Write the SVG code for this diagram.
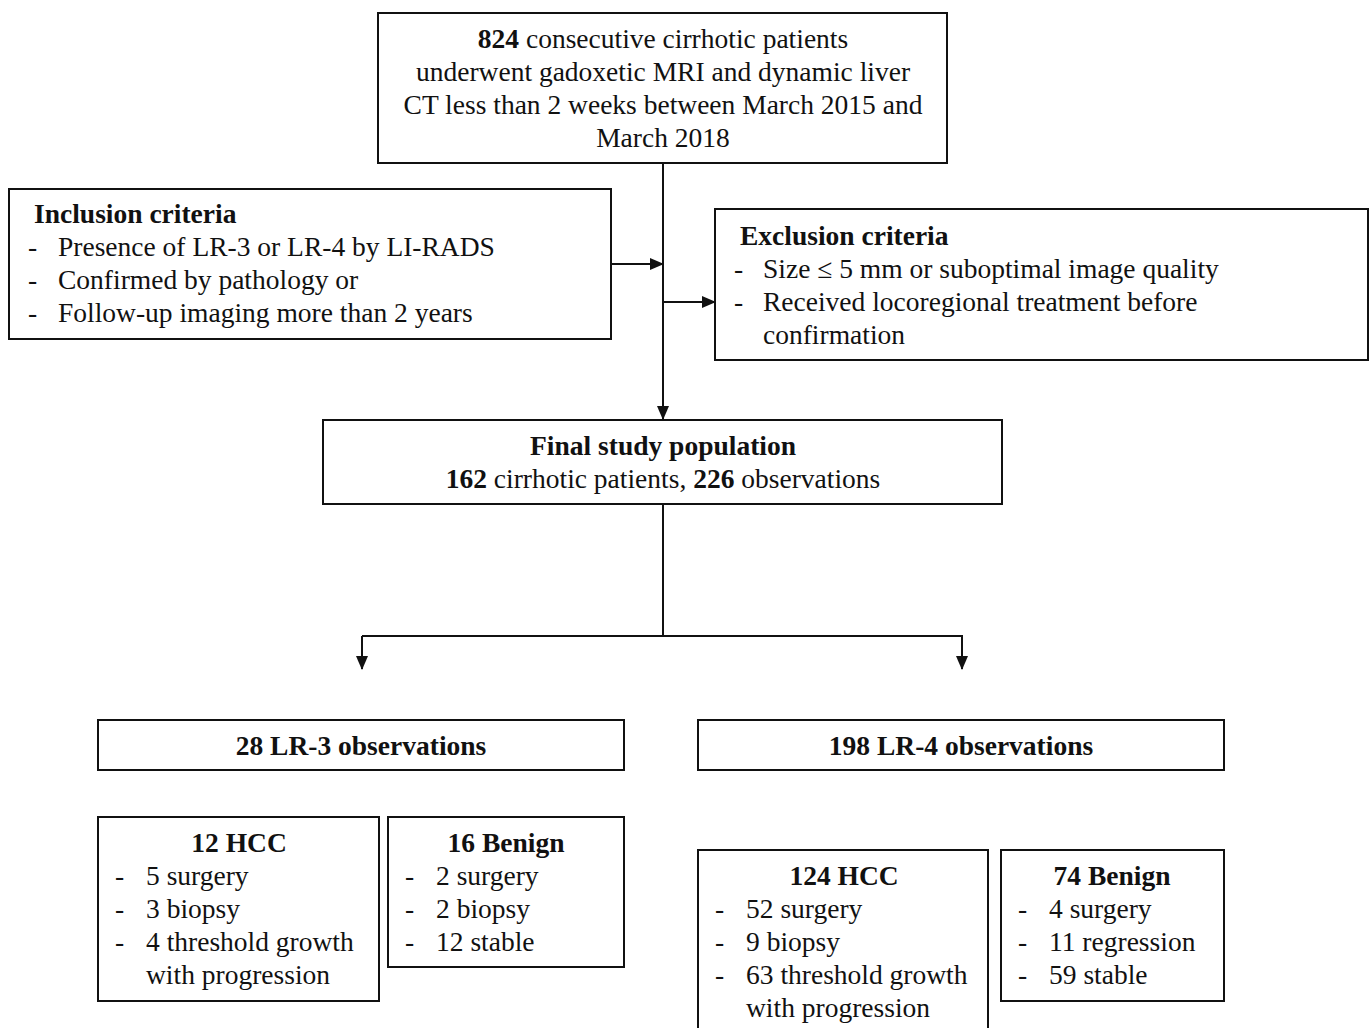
<svg xmlns="http://www.w3.org/2000/svg" width="1372" height="1028" viewBox="0 0 1372 1028">
<style>
.box{fill:#fff;stroke:#111;stroke-width:2}
text{font-family:"Liberation Serif","Times New Roman",serif;font-size:27.5px;fill:#111}
.c{text-anchor:middle}
.b{font-weight:bold}
.ln{stroke:#111;stroke-width:2;fill:none}
</style>
<defs>
<marker id="ah" markerWidth="14" markerHeight="12" refX="13" refY="6" orient="auto" markerUnits="userSpaceOnUse">
<path d="M0,0 L14,6 L0,12 z" fill="#111"/>
</marker>
</defs>
<rect width="1372" height="1028" fill="#fff"/>
<g id="connectors">
<line class="ln" x1="663" y1="163" x2="663" y2="419" marker-end="url(#ah)"/>
<line class="ln" x1="611" y1="264" x2="663" y2="264" marker-end="url(#ah)"/>
<line class="ln" x1="663" y1="302" x2="715" y2="302" marker-end="url(#ah)"/>
<polyline class="ln" points="663,504 663,636"/>
<polyline class="ln" points="362,636 962,636 962,669" marker-end="url(#ah)"/>
<line class="ln" x1="362" y1="636" x2="362" y2="669" marker-end="url(#ah)"/>
</g>
<g id="top">
<rect class="box" x="378" y="13" width="569" height="150"/>
<text class="c" x="663" y="48"><tspan class="b">824</tspan> consecutive cirrhotic patients</text>
<text class="c" x="663" y="81">underwent gadoxetic MRI and dynamic liver</text>
<text class="c" x="663" y="114">CT less than 2 weeks between March 2015 and</text>
<text class="c" x="663" y="147">March 2018</text>
</g>
<g id="inclusion">
<rect class="box" x="9" y="189" width="602" height="150"/>
<text class="b" x="34" y="223">Inclusion criteria</text>
<text x="28" y="256">-</text><text x="58" y="256">Presence of LR-3 or LR-4 by LI-RADS</text>
<text x="28" y="289">-</text><text x="58" y="289">Confirmed by pathology or</text>
<text x="28" y="322">-</text><text x="58" y="322">Follow-up imaging more than 2 years</text>
</g>
<g id="exclusion">
<rect class="box" x="715" y="209" width="653" height="151"/>
<text class="b" x="740" y="245">Exclusion criteria</text>
<text x="734" y="278">-</text><text x="763" y="278">Size ≤ 5 mm or suboptimal image quality</text>
<text x="734" y="311">-</text><text x="763" y="311">Received locoregional treatment before</text>
<text x="763" y="344">confirmation</text>
</g>
<g id="final">
<rect class="box" x="323" y="420" width="679" height="84"/>
<text class="c b" x="663" y="455">Final study population</text>
<text class="c" x="663" y="488"><tspan class="b">162</tspan> cirrhotic patients, <tspan class="b">226</tspan> observations</text>
</g>
<g id="lr3">
<rect class="box" x="98" y="720" width="526" height="50"/>
<text class="c b" x="361" y="755">28 LR-3 observations</text>
</g>
<g id="lr4">
<rect class="box" x="698" y="720" width="526" height="50"/>
<text class="c b" x="961" y="755">198 LR-4 observations</text>
</g>
<g id="hcc3">
<rect class="box" x="98" y="817" width="281" height="184"/>
<text class="c b" x="239" y="852">12 HCC</text>
<text x="115" y="885">-</text><text x="146" y="885">5 surgery</text>
<text x="115" y="918">-</text><text x="146" y="918">3 biopsy</text>
<text x="115" y="951">-</text><text x="146" y="951">4 threshold growth</text>
<text x="146" y="984">with progression</text>
</g>
<g id="benign3">
<rect class="box" x="388" y="817" width="236" height="150"/>
<text class="c b" x="506" y="852">16 Benign</text>
<text x="405" y="885">-</text><text x="436" y="885">2 surgery</text>
<text x="405" y="918">-</text><text x="436" y="918">2 biopsy</text>
<text x="405" y="951">-</text><text x="436" y="951">12 stable</text>
</g>
<g id="hcc4">
<rect class="box" x="698" y="850" width="290" height="190"/>
<text class="c b" x="844" y="885">124 HCC</text>
<text x="715" y="918">-</text><text x="746" y="918">52 surgery</text>
<text x="715" y="951">-</text><text x="746" y="951">9 biopsy</text>
<text x="715" y="984">-</text><text x="746" y="984">63 threshold growth</text>
<text x="746" y="1017">with progression</text>
</g>
<g id="benign4">
<rect class="box" x="1001" y="850" width="223" height="151"/>
<text class="c b" x="1112" y="885">74 Benign</text>
<text x="1018" y="918">-</text><text x="1049" y="918">4 surgery</text>
<text x="1018" y="951">-</text><text x="1049" y="951">11 regression</text>
<text x="1018" y="984">-</text><text x="1049" y="984">59 stable</text>
</g>
</svg>
